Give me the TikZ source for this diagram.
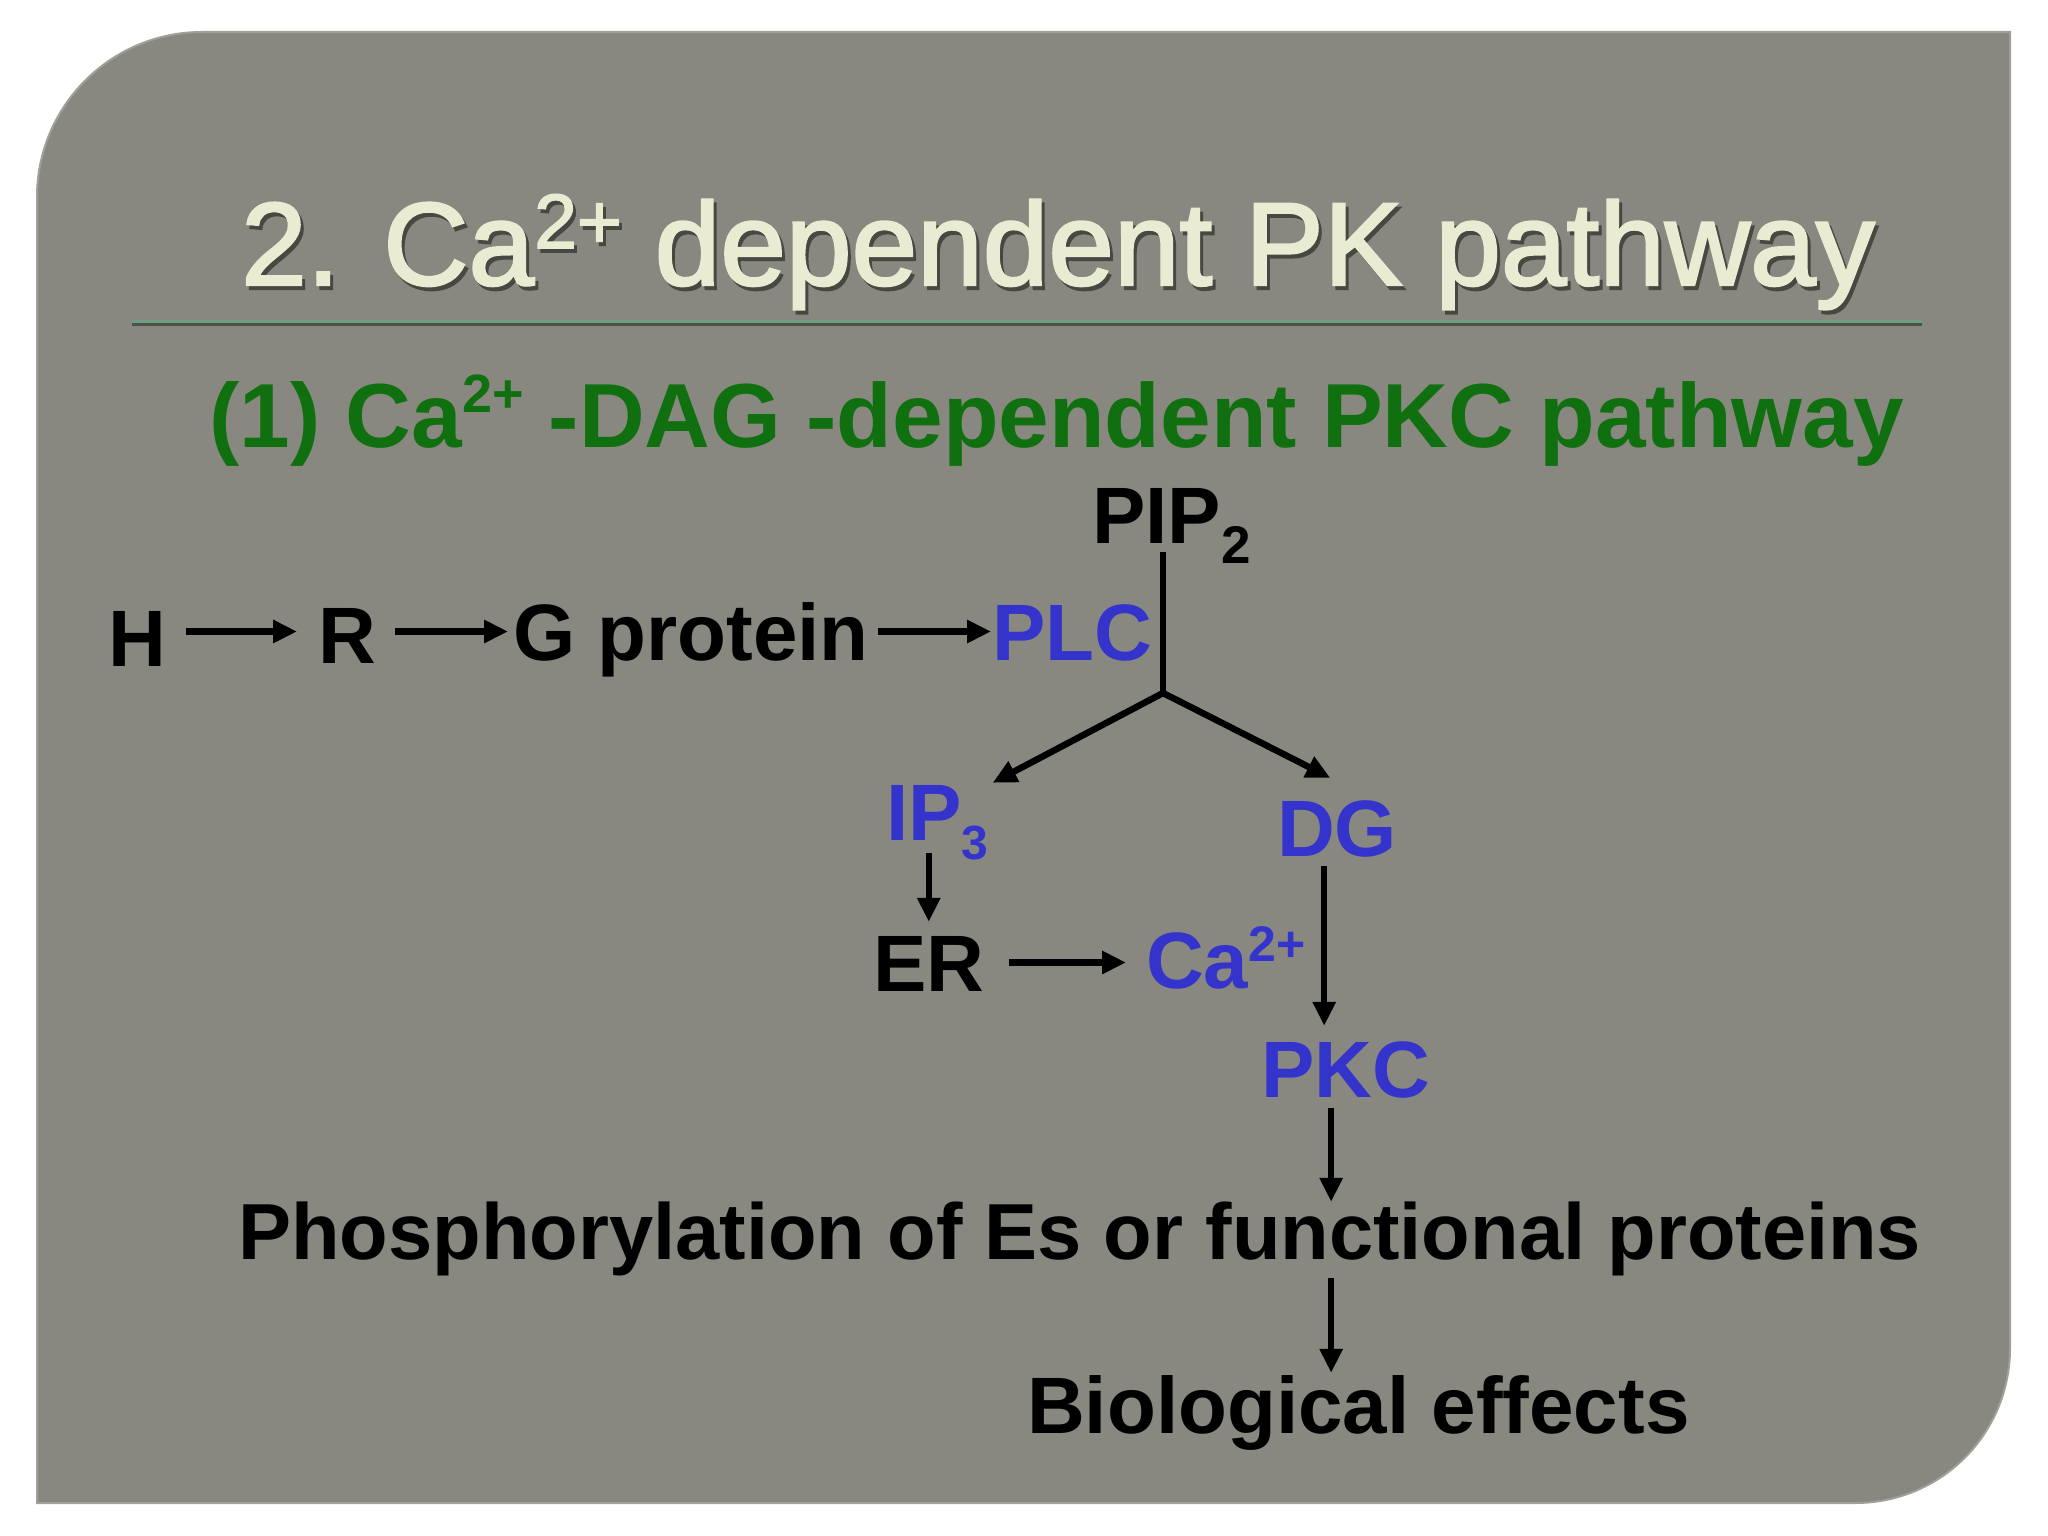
\documentclass[tikz,border=0pt]{standalone}
\usepackage{fontspec}
\setmainfont{Liberation Sans}
\newfontfamily\ttlfont[BoldFont=Liberation Sans,BoldFeatures={FakeBold=2}]{Liberation Sans}
\usetikzlibrary{arrows.meta}
\definecolor{bggray}{RGB}{136,136,128}
\definecolor{bgedge}{RGB}{160,160,152}
\definecolor{ttlcream}{RGB}{233,235,211}
\definecolor{ttlshadow}{RGB}{72,72,66}
\definecolor{rulegreen}{RGB}{110,158,130}
\definecolor{rulesh}{RGB}{80,80,74}
\definecolor{pgreen}{RGB}{16,112,16}
\definecolor{pblue}{RGB}{52,52,205}
\newcommand\upsc[3]{\raisebox{#1pt}{\fontsize{#2}{#2}\selectfont #3}}
\newcommand\dnsc[3]{\raisebox{-#1pt}{\fontsize{#2}{#2}\selectfont #3}}
\begin{document}
\begin{tikzpicture}[x=1pt,y=-1pt,
  lbl/.style={inner sep=0pt,anchor=base west,font=\fontsize{80}{96}\selectfont\bfseries,text height=57pt,text depth=0pt},
  blk/.style={lbl,text=black},
  blu/.style={lbl,text=pblue},
  ttl/.style={inner sep=0pt,anchor=base west,font=\ttlfont\bfseries\fontsize{118}{130}\selectfont},
  arr/.style={line width=6.5pt,-{Triangle[length=24pt,width=22pt]}},
  ln/.style={line width=6.5pt}]
\useasboundingbox (0,0) rectangle (2048,1536);
\fill[white] (0,0) rectangle (2048,1536);
% slide panel
\fill[bggray] (37,1503) -- (37,197) .. controls (37,106) and (111,32) .. (202,32) -- (2010,32) -- (2010,1348) .. controls (2010,1434) and (1941,1503) .. (1855,1503) -- cycle;
\draw[bgedge,line width=2pt] (37,1503) -- (37,197) .. controls (37,106) and (111,32) .. (202,32) -- (2010,32) -- (2010,1348) .. controls (2010,1434) and (1941,1503) .. (1855,1503) -- cycle;
% title
\node[ttl,text=ttlshadow] (tsh) at (244,289) {2. Ca\upsc{37}{77}{2+} dependent PK pathway};
\node[ttl,text=ttlcream] (title) at (241,285) {2. Ca\upsc{37}{77}{2+} dependent PK pathway};
% rule
\draw[line width=3pt,rulesh] (132,324) -- (1922,324);
\draw[line width=3pt,rulegreen] (132,321) -- (1922,321);
% subtitle
\node[inner sep=0pt,anchor=base west,font=\fontsize{91}{104}\selectfont\bfseries,text=pgreen] (sub) at (209,447) {(1) Ca\upsc{35}{54}{2+} -DAG -dependent PKC pathway};
% nodes
\node[blk] (H) at (108,666) {H};
\node[blk] (R) at (318,663) {R};
\node[blk] (G) at (513,660) {G protein};
\node[blu] (PLC) at (992,660) {PLC};
\node[blk] (PIP) at (1092,543) {PIP\dnsc{20}{53}{2}};
\coordinate (fork) at (1163,693);
\node[blu] (IP3) at (886,840) {IP\dnsc{19}{48}{3}};
\node[blu] (DG) at (1277,856) {DG};
\node[blk] (ER) at (873,991) {ER};
\node[blu] (Ca) at (1146,988) {Ca\upsc{27}{50}{2+}};
\node[blu] (PKC) at (1261,1097) {PKC};
\node[blk,font=\fontsize{79.5}{96}\selectfont\bfseries] (Phos) at (238,1259) {Phosphorylation of Es or functional proteins};
\node[blk] (Bio) at (1027,1433) {Biological effects};
% connectors
\draw[arr,shorten <=20pt,shorten >=21pt] (H.east |- G.east) -- (R.west |- G.east);
\draw[arr,shorten <=19pt,shorten >=5pt] (R.east |- G.east) -- (G.west);
\draw[arr,shorten <=9pt,shorten >=1pt] (G.east) -- (PLC.west);
\draw[ln,shorten <=12pt,line cap=rect] (PIP.south -| fork) -- (fork);
\draw[arr] (fork) -- ([xshift=4pt]IP3.north east);
\draw[arr] (fork) -- ([xshift=-7pt,yshift=21pt]DG.north);
\draw[arr,shorten <=13pt,shorten >=12pt] (ER.north |- IP3.south) -- (ER.north);
\draw[arr,shorten <=24pt,shorten >=20pt] (ER.east) -- (ER.east -| Ca.west);
\coordinate (dgx) at ([xshift=-13pt]DG.south);
\draw[arr,shorten <=10pt,shorten >=14pt] (dgx) -- (dgx |- PKC.north);
\coordinate (pkx) at ([xshift=-14.5pt]PKC.south);
\draw[arr,shorten <=11pt] (pkx) -- (pkx |- Phos.north);
\draw[arr,shorten <=19pt,shorten >=3pt] (pkx |- Phos.south) -- (pkx |- Bio.north);
\end{tikzpicture}
\end{document}
